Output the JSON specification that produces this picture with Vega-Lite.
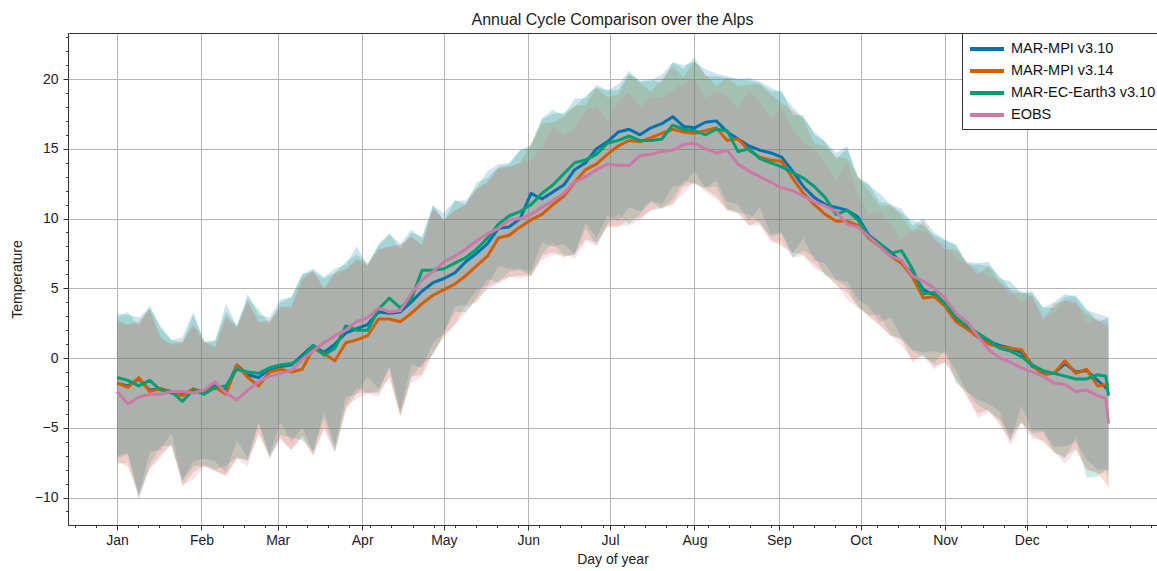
{
  "$schema": "https://vega.github.io/schema/vega-lite/v6.json",
  "width": 1089,
  "height": 492,
  "autosize": {"type": "none"},
  "padding": {"left": 68, "top": 33, "right": 0, "bottom": 46},
  "background": "white",
  "config": {
    "view": {"stroke": null},
    "font": "Liberation Sans",
    "axis": {
      "labelFont": "Liberation Sans",
      "titleFont": "Liberation Sans",
      "labelFontSize": 14,
      "titleFontSize": 14,
      "titleFontWeight": "normal",
      "labelColor": "#222",
      "titleColor": "#222",
      "domainColor": "#333",
      "tickColor": "#333",
      "gridColor": "#b5b5b5",
      "gridWidth": 1
    },
    "legend": {
      "orient": "none",
      "legendX": 894,
      "legendY": 0,
      "fillColor": "white",
      "strokeColor": "#333",
      "padding": 6,
      "symbolType": "M-1,0H3.25",
      "symbolSize": 256,
      "symbolStrokeWidth": 4,
      "labelFont": "Liberation Sans",
      "labelFontSize": 14.5,
      "labelColor": "#111",
      "labelOffset": 23,
      "labelLimit": 400,
      "rowPadding": 4,
      "titleFontSize": 0
    }
  },
  "title": {
    "text": "Annual Cycle Comparison over the Alps",
    "font": "Liberation Sans",
    "fontSize": 16,
    "fontWeight": "normal",
    "color": "#222",
    "anchor": "middle",
    "offset": 5
  },
  "datasets": {
    "mpi310": [
      {"d":1,"m":-1.8,"lo":-7.0,"hi":3.2},{"d":5,"m":-2.0,"lo":-6.8,"hi":3.1},{"d":9,"m":-1.5,"lo":-9.8,"hi":2.9},{"d":13,"m":-2.3,"lo":-6.7,"hi":3.6},
      {"d":17,"m":-2.2,"lo":-6.6,"hi":2.3},{"d":21,"m":-2.5,"lo":-5.4,"hi":1.3},{"d":25,"m":-2.6,"lo":-8.8,"hi":1.5},{"d":29,"m":-2.3,"lo":-7.4,"hi":3.3},
      {"d":33,"m":-2.4,"lo":-7.2,"hi":1.1},{"d":37,"m":-2.0,"lo":-7.4,"hi":1.2},{"d":41,"m":-2.3,"lo":-8.2,"hi":3.9},{"d":45,"m":-0.5,"lo":-5.9,"hi":2.3},
      {"d":49,"m":-1.2,"lo":-7.2,"hi":4.6},{"d":53,"m":-1.4,"lo":-4.6,"hi":3.1},{"d":57,"m":-0.8,"lo":-6.9,"hi":2.9},{"d":61,"m":-0.6,"lo":-4.6,"hi":4.2},
      {"d":65,"m":-0.5,"lo":-6.0,"hi":4.4},{"d":69,"m":0.2,"lo":-5.0,"hi":6.0},{"d":73,"m":0.9,"lo":-6.7,"hi":6.4},{"d":77,"m":0.4,"lo":-3.9,"hi":5.8},
      {"d":81,"m":1.0,"lo":-6.2,"hi":6.4},{"d":85,"m":1.8,"lo":-2.8,"hi":6.7},{"d":89,"m":2.1,"lo":-2.6,"hi":8.0},{"d":93,"m":2.4,"lo":-1.3,"hi":6.6},
      {"d":97,"m":3.3,"lo":-2.2,"hi":8.2},{"d":101,"m":3.2,"lo":-0.6,"hi":8.9},{"d":105,"m":3.3,"lo":-3.8,"hi":8.2},{"d":109,"m":4.0,"lo":-0.5,"hi":9.2},
      {"d":113,"m":4.8,"lo":-0.7,"hi":8.6},{"d":117,"m":5.4,"lo":1.1,"hi":10.9},{"d":121,"m":5.7,"lo":1.8,"hi":10.4},{"d":125,"m":6.1,"lo":3.7,"hi":11.3},
      {"d":129,"m":6.9,"lo":3.8,"hi":11.3},{"d":133,"m":7.5,"lo":4.9,"hi":12.2},{"d":137,"m":8.2,"lo":5.2,"hi":13.4},{"d":141,"m":9.3,"lo":6.6,"hi":13.9},
      {"d":145,"m":9.4,"lo":6.4,"hi":14.0},{"d":149,"m":10.0,"lo":6.4,"hi":14.9},{"d":153,"m":11.8,"lo":6.2,"hi":15.3},{"d":157,"m":11.4,"lo":8.3,"hi":17.2},
      {"d":161,"m":11.9,"lo":8.0,"hi":17.8},{"d":165,"m":12.4,"lo":8.2,"hi":17.4},{"d":169,"m":13.5,"lo":7.4,"hi":18.6},{"d":173,"m":14.0,"lo":9.7,"hi":18.6},
      {"d":177,"m":15.0,"lo":8.6,"hi":19.6},{"d":181,"m":15.5,"lo":10.2,"hi":19.2},{"d":185,"m":16.2,"lo":9.8,"hi":19.6},{"d":189,"m":16.4,"lo":10.8,"hi":20.6},
      {"d":193,"m":16.0,"lo":10.5,"hi":19.8},{"d":197,"m":16.5,"lo":11.3,"hi":19.9},{"d":201,"m":16.8,"lo":11.0,"hi":20.3},{"d":205,"m":17.3,"lo":12.3,"hi":21.2},
      {"d":209,"m":16.6,"lo":12.4,"hi":21.0},{"d":213,"m":16.5,"lo":13.4,"hi":21.2},{"d":217,"m":16.9,"lo":12.2,"hi":20.7},{"d":221,"m":17.0,"lo":12.7,"hi":20.4},
      {"d":225,"m":16.2,"lo":11.2,"hi":20.2},{"d":229,"m":15.7,"lo":11.0,"hi":20.0},{"d":233,"m":15.2,"lo":9.8,"hi":20.1},{"d":237,"m":14.9,"lo":10.8,"hi":19.8},
      {"d":241,"m":14.7,"lo":8.9,"hi":19.4},{"d":245,"m":14.4,"lo":9.0,"hi":19.0},{"d":249,"m":13.4,"lo":7.5,"hi":18.0},{"d":253,"m":12.3,"lo":8.6,"hi":17.2},
      {"d":257,"m":11.5,"lo":7.0,"hi":16.2},{"d":261,"m":11.0,"lo":6.8,"hi":15.5},{"d":265,"m":10.8,"lo":5.6,"hi":14.7},{"d":269,"m":10.6,"lo":5.5,"hi":15.2},
      {"d":273,"m":10.1,"lo":4.2,"hi":12.9},{"d":277,"m":8.8,"lo":3.7,"hi":12.4},{"d":281,"m":8.2,"lo":2.6,"hi":11.8},{"d":285,"m":7.6,"lo":2.9,"hi":11.0},
      {"d":289,"m":6.8,"lo":1.5,"hi":10.7},{"d":293,"m":6.1,"lo":0.6,"hi":9.5},{"d":297,"m":4.9,"lo":0.4,"hi":10.0},{"d":301,"m":4.5,"lo":0.5,"hi":9.0},
      {"d":305,"m":3.8,"lo":0.3,"hi":8.5},{"d":309,"m":2.7,"lo":-0.9,"hi":8.1},{"d":313,"m":2.2,"lo":-2.4,"hi":6.9},{"d":317,"m":1.6,"lo":-3.0,"hi":6.8},
      {"d":321,"m":1.2,"lo":-3.3,"hi":6.9},{"d":325,"m":0.9,"lo":-3.8,"hi":5.7},{"d":329,"m":0.7,"lo":-6.0,"hi":5.5},{"d":333,"m":0.4,"lo":-3.4,"hi":4.6},
      {"d":337,"m":-0.6,"lo":-5.2,"hi":4.8},{"d":341,"m":-1.0,"lo":-5.2,"hi":3.6},{"d":345,"m":-1.1,"lo":-6.4,"hi":4.0},{"d":349,"m":-0.4,"lo":-6.3,"hi":4.6},
      {"d":353,"m":-1.0,"lo":-6.0,"hi":4.4},{"d":357,"m":-0.9,"lo":-7.3,"hi":3.4},{"d":361,"m":-1.6,"lo":-8.0,"hi":3.2},{"d":365,"m":-2.3,"lo":-8.0,"hi":2.9}
    ],
    "mpi314": [
      {"d":1,"m":-1.8,"lo":-7.4,"hi":2.7},{"d":5,"m":-2.1,"lo":-7.8,"hi":2.4},{"d":9,"m":-1.4,"lo":-9.7,"hi":2.6},{"d":13,"m":-2.4,"lo":-7.9,"hi":3.5},
      {"d":17,"m":-2.2,"lo":-6.9,"hi":1.5},{"d":21,"m":-2.4,"lo":-6.2,"hi":1.0},{"d":25,"m":-2.7,"lo":-9.2,"hi":1.2},{"d":29,"m":-2.2,"lo":-8.2,"hi":2.4},
      {"d":33,"m":-2.5,"lo":-7.7,"hi":1.2},{"d":37,"m":-2.1,"lo":-8.1,"hi":0.8},{"d":41,"m":-2.6,"lo":-8.4,"hi":3.0},{"d":45,"m":-0.5,"lo":-7.2,"hi":2.2},
      {"d":49,"m":-1.4,"lo":-7.3,"hi":4.1},{"d":53,"m":-2.0,"lo":-5.5,"hi":2.6},{"d":57,"m":-1.0,"lo":-7.0,"hi":2.7},{"d":61,"m":-0.8,"lo":-5.7,"hi":3.7},
      {"d":65,"m":-1.0,"lo":-6.6,"hi":3.7},{"d":69,"m":-0.8,"lo":-5.5,"hi":5.7},{"d":73,"m":0.7,"lo":-7.0,"hi":6.3},{"d":77,"m":0.3,"lo":-4.9,"hi":5.0},
      {"d":81,"m":-0.2,"lo":-6.6,"hi":6.1},{"d":85,"m":1.1,"lo":-3.8,"hi":6.4},{"d":89,"m":1.3,"lo":-2.5,"hi":7.1},{"d":93,"m":1.6,"lo":-2.5,"hi":6.7},
      {"d":97,"m":2.8,"lo":-2.5,"hi":7.8},{"d":101,"m":2.8,"lo":-1.4,"hi":8.0},{"d":105,"m":2.6,"lo":-4.2,"hi":8.1},{"d":109,"m":3.2,"lo":-1.3,"hi":8.7},
      {"d":113,"m":3.9,"lo":-1.2,"hi":8.1},{"d":117,"m":4.5,"lo":0.4,"hi":10.7},{"d":121,"m":4.9,"lo":1.6,"hi":9.9},{"d":125,"m":5.3,"lo":2.4,"hi":10.6},
      {"d":129,"m":5.9,"lo":3.7,"hi":11.0},{"d":133,"m":6.6,"lo":4.0,"hi":12.1},{"d":137,"m":7.3,"lo":5.1,"hi":12.6},{"d":141,"m":8.6,"lo":5.5,"hi":13.6},
      {"d":145,"m":8.8,"lo":5.8,"hi":13.7},{"d":149,"m":9.4,"lo":5.9,"hi":14.0},{"d":153,"m":9.9,"lo":5.9,"hi":15.4},{"d":157,"m":10.3,"lo":7.3,"hi":16.8},
      {"d":161,"m":11.0,"lo":7.6,"hi":16.9},{"d":165,"m":11.6,"lo":7.2,"hi":17.3},{"d":169,"m":12.6,"lo":7.5,"hi":18.1},{"d":173,"m":13.5,"lo":8.5,"hi":18.1},
      {"d":177,"m":13.9,"lo":8.3,"hi":19.4},{"d":181,"m":14.6,"lo":9.4,"hi":18.7},{"d":185,"m":15.2,"lo":9.4,"hi":18.9},{"d":189,"m":15.6,"lo":10.0,"hi":20.3},
      {"d":193,"m":15.5,"lo":10.0,"hi":19.7},{"d":197,"m":15.8,"lo":10.6,"hi":19.1},{"d":201,"m":16.1,"lo":10.8,"hi":20.0},{"d":205,"m":16.4,"lo":11.0,"hi":20.9},
      {"d":209,"m":16.2,"lo":12.3,"hi":20.1},{"d":213,"m":16.1,"lo":12.5,"hi":21.3},{"d":217,"m":16.3,"lo":12.1,"hi":20.3},{"d":221,"m":16.5,"lo":11.6,"hi":19.5},
      {"d":225,"m":15.6,"lo":10.6,"hi":20.1},{"d":229,"m":15.7,"lo":10.5,"hi":19.5},{"d":233,"m":14.9,"lo":9.5,"hi":19.6},{"d":237,"m":14.4,"lo":9.8,"hi":19.6},
      {"d":241,"m":14.2,"lo":8.5,"hi":18.9},{"d":245,"m":14.1,"lo":8.0,"hi":18.3},{"d":249,"m":12.9,"lo":7.6,"hi":17.7},{"d":253,"m":11.8,"lo":7.4,"hi":17.1},
      {"d":257,"m":11.0,"lo":6.7,"hi":15.4},{"d":261,"m":10.3,"lo":6.0,"hi":15.2},{"d":265,"m":9.8,"lo":5.2,"hi":14.4},{"d":269,"m":9.8,"lo":4.7,"hi":14.3},
      {"d":273,"m":9.5,"lo":3.7,"hi":13.0},{"d":277,"m":8.6,"lo":3.0,"hi":12.0},{"d":281,"m":8.0,"lo":2.4,"hi":10.9},{"d":285,"m":7.3,"lo":1.6,"hi":10.9},
      {"d":289,"m":6.8,"lo":1.4,"hi":10.2},{"d":293,"m":5.8,"lo":-0.3,"hi":9.0},{"d":297,"m":4.3,"lo":0.3,"hi":9.8},{"d":301,"m":4.4,"lo":-0.6,"hi":8.5},
      {"d":305,"m":3.7,"lo":-0.3,"hi":7.8},{"d":309,"m":2.6,"lo":-1.4,"hi":7.8},{"d":313,"m":2.1,"lo":-2.7,"hi":6.8},{"d":317,"m":1.5,"lo":-4.0,"hi":6.0},
      {"d":321,"m":1.0,"lo":-3.7,"hi":6.6},{"d":325,"m":0.8,"lo":-4.8,"hi":5.4},{"d":329,"m":0.7,"lo":-5.9,"hi":4.6},{"d":333,"m":0.6,"lo":-4.6,"hi":4.7},
      {"d":337,"m":-0.5,"lo":-5.5,"hi":4.4},{"d":341,"m":-1.2,"lo":-6.0,"hi":2.7},{"d":345,"m":-1.1,"lo":-6.8,"hi":3.9},{"d":349,"m":-0.2,"lo":-7.1,"hi":4.1},
      {"d":353,"m":-1.1,"lo":-6.5,"hi":3.9},{"d":357,"m":-0.8,"lo":-8.0,"hi":3.2},{"d":361,"m":-2.0,"lo":-8.2,"hi":2.7},{"d":365,"m":-1.9,"lo":-9.3,"hi":2.2}
    ],
    "ece310": [
      {"d":1,"m":-1.4,"lo":-7.2,"hi":2.9},{"d":5,"m":-1.6,"lo":-6.9,"hi":3.3},{"d":9,"m":-2.0,"lo":-10.1,"hi":2.3},{"d":13,"m":-1.6,"lo":-7.6,"hi":3.8},
      {"d":17,"m":-2.3,"lo":-6.3,"hi":2.1},{"d":21,"m":-2.4,"lo":-6.3,"hi":1.3},{"d":25,"m":-3.1,"lo":-8.8,"hi":1.1},{"d":29,"m":-2.3,"lo":-7.8,"hi":3.1},
      {"d":33,"m":-2.6,"lo":-7.7,"hi":1.2},{"d":37,"m":-2.1,"lo":-8.0,"hi":1.3},{"d":41,"m":-2.0,"lo":-7.7,"hi":3.3},{"d":45,"m":-0.8,"lo":-7.1,"hi":2.3},
      {"d":49,"m":-1.0,"lo":-7.4,"hi":4.3},{"d":53,"m":-1.1,"lo":-4.7,"hi":3.5},{"d":57,"m":-0.7,"lo":-7.2,"hi":2.4},{"d":61,"m":-0.5,"lo":-5.5,"hi":4.0},
      {"d":65,"m":-0.4,"lo":-5.7,"hi":4.3},{"d":69,"m":0.0,"lo":-5.9,"hi":6.0},{"d":73,"m":0.9,"lo":-6.7,"hi":6.2},{"d":77,"m":0.2,"lo":-4.3,"hi":5.7},
      {"d":81,"m":0.7,"lo":-6.7,"hi":6.1},{"d":85,"m":2.3,"lo":-3.4,"hi":6.9},{"d":89,"m":2.0,"lo":-2.1,"hi":7.4},{"d":93,"m":2.0,"lo":-2.5,"hi":6.8},
      {"d":97,"m":3.5,"lo":-2.4,"hi":8.0},{"d":101,"m":4.3,"lo":-0.7,"hi":8.9},{"d":105,"m":3.6,"lo":-4.1,"hi":7.8},{"d":109,"m":4.2,"lo":-1.4,"hi":9.0},
      {"d":113,"m":6.3,"lo":-0.4,"hi":8.7},{"d":117,"m":6.3,"lo":0.2,"hi":11.0},{"d":121,"m":6.4,"lo":1.8,"hi":9.8},{"d":125,"m":6.8,"lo":3.3,"hi":11.3},
      {"d":129,"m":7.2,"lo":3.3,"hi":11.0},{"d":133,"m":7.8,"lo":4.3,"hi":12.6},{"d":137,"m":8.6,"lo":5.7,"hi":12.9},{"d":141,"m":9.6,"lo":5.4,"hi":13.7},
      {"d":145,"m":10.2,"lo":6.2,"hi":13.9},{"d":149,"m":10.5,"lo":6.3,"hi":14.9},{"d":153,"m":11.0,"lo":5.9,"hi":15.1},{"d":157,"m":11.8,"lo":7.4,"hi":17.1},
      {"d":161,"m":12.4,"lo":8.3,"hi":17.5},{"d":165,"m":13.2,"lo":7.3,"hi":17.6},{"d":169,"m":14.0,"lo":7.4,"hi":18.0},{"d":173,"m":14.2,"lo":9.3,"hi":18.8},
      {"d":177,"m":14.6,"lo":8.1,"hi":19.4},{"d":181,"m":15.4,"lo":9.6,"hi":19.2},{"d":185,"m":15.6,"lo":10.3,"hi":19.2},{"d":189,"m":15.9,"lo":9.6,"hi":20.4},
      {"d":193,"m":15.6,"lo":10.3,"hi":19.9},{"d":197,"m":15.6,"lo":11.2,"hi":20.0},{"d":201,"m":15.7,"lo":10.7,"hi":19.7},{"d":205,"m":16.7,"lo":11.4,"hi":21.2},
      {"d":209,"m":16.4,"lo":12.7,"hi":20.7},{"d":213,"m":16.3,"lo":12.5,"hi":21.6},{"d":217,"m":16.0,"lo":12.2,"hi":20.2},{"d":221,"m":16.4,"lo":12.3,"hi":20.2},
      {"d":225,"m":16.3,"lo":10.7,"hi":20.1},{"d":229,"m":14.8,"lo":10.4,"hi":20.0},{"d":233,"m":15.0,"lo":10.3,"hi":19.9},{"d":237,"m":14.3,"lo":9.6,"hi":19.7},
      {"d":241,"m":14.0,"lo":8.7,"hi":19.1},{"d":245,"m":13.7,"lo":8.9,"hi":19.2},{"d":249,"m":13.3,"lo":7.2,"hi":17.4},{"d":253,"m":12.9,"lo":7.7,"hi":17.4},
      {"d":257,"m":12.3,"lo":7.3,"hi":16.0},{"d":261,"m":11.5,"lo":5.9,"hi":15.5},{"d":265,"m":10.3,"lo":5.6,"hi":14.3},{"d":269,"m":10.6,"lo":5.1,"hi":15.0},
      {"d":273,"m":9.9,"lo":3.7,"hi":13.0},{"d":277,"m":8.7,"lo":3.1,"hi":12.5},{"d":281,"m":8.2,"lo":3.1,"hi":11.2},{"d":285,"m":7.5,"lo":1.7,"hi":11.0},
      {"d":289,"m":7.7,"lo":1.3,"hi":10.4},{"d":293,"m":6.4,"lo":0.5,"hi":9.9},{"d":297,"m":4.6,"lo":0.1,"hi":9.5},{"d":301,"m":4.7,"lo":-0.4,"hi":8.8},
      {"d":305,"m":3.9,"lo":0.6,"hi":8.4},{"d":309,"m":2.9,"lo":-1.8,"hi":8.1},{"d":313,"m":2.3,"lo":-2.4,"hi":6.7},{"d":317,"m":1.8,"lo":-3.4,"hi":6.7},
      {"d":321,"m":1.3,"lo":-3.8,"hi":6.6},{"d":325,"m":0.7,"lo":-4.4,"hi":5.9},{"d":329,"m":0.5,"lo":-5.5,"hi":4.9},{"d":333,"m":0.1,"lo":-4.6,"hi":4.8},
      {"d":337,"m":-0.5,"lo":-5.4,"hi":4.6},{"d":341,"m":-0.9,"lo":-5.3,"hi":3.6},{"d":345,"m":-1.1,"lo":-6.7,"hi":3.6},{"d":349,"m":-1.3,"lo":-7.2,"hi":4.4},
      {"d":353,"m":-1.5,"lo":-5.7,"hi":4.5},{"d":357,"m":-1.5,"lo":-8.6,"hi":3.5},{"d":361,"m":-1.2,"lo":-8.5,"hi":2.6},{"d":364,"m":-1.3,"lo":-8.0,"hi":2.8},
      {"d":365,"m":-2.7,"lo":-8.4,"hi":2.9}
    ],
    "eobs": [
      {"d":1,"m":-2.4,"lo":-7.6,"hi":2.6},{"d":5,"m":-3.3,"lo":-7.5,"hi":2.3},{"d":9,"m":-2.8,"lo":-10.1,"hi":2.5},{"d":13,"m":-2.6,"lo":-8.0,"hi":3.4},
      {"d":17,"m":-2.6,"lo":-7.2,"hi":1.4},{"d":21,"m":-2.4,"lo":-6.1,"hi":0.9},{"d":25,"m":-2.4,"lo":-9.1,"hi":1.1},{"d":29,"m":-2.5,"lo":-8.7,"hi":2.3},
      {"d":33,"m":-2.3,"lo":-7.8,"hi":1.1},{"d":37,"m":-1.7,"lo":-8.1,"hi":0.7},{"d":41,"m":-2.5,"lo":-8.5,"hi":2.9},{"d":45,"m":-3.0,"lo":-7.2,"hi":2.1},
      {"d":49,"m":-2.3,"lo":-7.8,"hi":4.0},{"d":53,"m":-1.7,"lo":-5.3,"hi":2.5},{"d":57,"m":-1.3,"lo":-7.2,"hi":2.6},{"d":61,"m":-1.1,"lo":-5.9,"hi":3.6},
      {"d":65,"m":-0.9,"lo":-6.6,"hi":3.6},{"d":69,"m":-0.1,"lo":-5.7,"hi":5.6},{"d":73,"m":0.5,"lo":-7.0,"hi":6.2},{"d":77,"m":1.1,"lo":-5.2,"hi":4.9},
      {"d":81,"m":1.6,"lo":-6.8,"hi":6.0},{"d":85,"m":2.0,"lo":-3.5,"hi":6.3},{"d":89,"m":2.6,"lo":-2.9,"hi":7.0},{"d":93,"m":2.9,"lo":-2.6,"hi":6.6},
      {"d":97,"m":3.6,"lo":-2.8,"hi":7.8},{"d":101,"m":3.3,"lo":-1.3,"hi":8.0},{"d":105,"m":3.4,"lo":-4.1,"hi":8.1},{"d":109,"m":4.6,"lo":-1.8,"hi":8.7},
      {"d":113,"m":5.6,"lo":-1.3,"hi":8.1},{"d":117,"m":6.2,"lo":0.4,"hi":10.7},{"d":121,"m":6.9,"lo":1.5,"hi":9.9},{"d":125,"m":7.3,"lo":2.4,"hi":10.6},
      {"d":129,"m":7.8,"lo":3.2,"hi":11.0},{"d":133,"m":8.4,"lo":4.2,"hi":12.1},{"d":137,"m":8.9,"lo":4.9,"hi":12.6},{"d":141,"m":9.3,"lo":5.3,"hi":13.6},
      {"d":145,"m":9.9,"lo":5.8,"hi":13.7},{"d":149,"m":10.0,"lo":5.7,"hi":14.0},{"d":153,"m":10.3,"lo":5.9,"hi":14.1},{"d":157,"m":10.8,"lo":7.0,"hi":15.1},
      {"d":161,"m":11.3,"lo":7.4,"hi":16.5},{"d":165,"m":11.8,"lo":7.5,"hi":16.0},{"d":169,"m":12.6,"lo":7.1,"hi":16.4},{"d":173,"m":13.0,"lo":8.4,"hi":17.7},
      {"d":177,"m":13.5,"lo":8.0,"hi":18.1},{"d":181,"m":13.9,"lo":9.5,"hi":17.0},{"d":185,"m":13.8,"lo":9.5,"hi":18.5},{"d":189,"m":13.8,"lo":9.5,"hi":19.0},
      {"d":193,"m":14.5,"lo":9.9,"hi":18.0},{"d":197,"m":14.6,"lo":10.6,"hi":18.7},{"d":201,"m":14.8,"lo":10.7,"hi":18.7},{"d":205,"m":14.9,"lo":11.0,"hi":19.2},
      {"d":209,"m":15.3,"lo":11.8,"hi":19.7},{"d":213,"m":15.4,"lo":12.7,"hi":20.0},{"d":217,"m":15.0,"lo":11.9,"hi":18.6},{"d":221,"m":14.7,"lo":11.4,"hi":19.1},
      {"d":225,"m":14.9,"lo":10.6,"hi":18.8},{"d":229,"m":13.9,"lo":10.3,"hi":17.8},{"d":233,"m":13.4,"lo":9.5,"hi":19.2},{"d":237,"m":13.0,"lo":9.5,"hi":18.3},
      {"d":241,"m":12.6,"lo":8.3,"hi":17.2},{"d":245,"m":12.2,"lo":8.3,"hi":17.9},{"d":249,"m":12.0,"lo":7.2,"hi":16.4},{"d":253,"m":11.6,"lo":7.3,"hi":15.4},
      {"d":257,"m":11.2,"lo":6.4,"hi":15.0},{"d":261,"m":10.9,"lo":6.1,"hi":13.9},{"d":265,"m":10.5,"lo":5.3,"hi":12.7},{"d":269,"m":9.6,"lo":4.2,"hi":13.9},
      {"d":273,"m":9.4,"lo":3.6,"hi":11.7},{"d":277,"m":8.7,"lo":3.0,"hi":10.3},{"d":281,"m":8.0,"lo":2.3,"hi":10.5},{"d":285,"m":7.3,"lo":1.6,"hi":9.6},
      {"d":289,"m":7.0,"lo":0.9,"hi":8.5},{"d":293,"m":5.9,"lo":-0.1,"hi":9.3},{"d":297,"m":5.5,"lo":0.1,"hi":9.1},{"d":301,"m":5.0,"lo":-0.8,"hi":8.6},
      {"d":305,"m":4.3,"lo":-0.3,"hi":8.1},{"d":309,"m":3.2,"lo":-1.6,"hi":7.1},{"d":313,"m":2.6,"lo":-2.7,"hi":6.9},{"d":317,"m":1.6,"lo":-4.3,"hi":6.3},
      {"d":321,"m":0.6,"lo":-3.9,"hi":5.9},{"d":325,"m":0.0,"lo":-4.5,"hi":5.5},{"d":329,"m":-0.3,"lo":-6.3,"hi":4.9},{"d":333,"m":-0.7,"lo":-4.7,"hi":4.0},
      {"d":337,"m":-1.0,"lo":-5.8,"hi":4.5},{"d":341,"m":-1.3,"lo":-5.9,"hi":3.0},{"d":345,"m":-1.8,"lo":-6.7,"hi":3.2},{"d":349,"m":-1.9,"lo":-7.6,"hi":4.2},
      {"d":353,"m":-2.4,"lo":-6.6,"hi":4.2},{"d":357,"m":-2.3,"lo":-8.0,"hi":2.5},{"d":361,"m":-2.7,"lo":-8.3,"hi":2.8},{"d":364,"m":-2.9,"lo":-8.2,"hi":2.7},
      {"d":365,"m":-4.7,"lo":-9.3,"hi":2.5}
    ]
  },
  "layer": [
    {
      "data": {"name": "mpi310"},
      "mark": {"type": "area", "color": "#0072B2", "opacity": 0.2},
      "encoding": {
        "x": {
          "field": "d", "type": "quantitative",
          "scale": {"domain": [-17.0, 382.8], "nice": false, "zero": false},
          "axis": {
            "orient": "bottom",
            "values": [1, 32, 60, 91, 121, 152, 182, 213, 244, 274, 305, 335],
            "labelExpr": "['Jan','Feb','Mar','Apr','May','Jun','Jul','Aug','Sep','Oct','Nov','Dec'][indexof([1,32,60,91,121,152,182,213,244,274,305,335], datum.value)]",
            "title": "Day of year",
            "grid": true,
            "tickSize": 5,
            "labelPadding": 3,
            "titlePadding": 5,
            "labelFlush": false,
            "labelOverlap": false
          }
        },
        "y": {
          "field": "lo", "type": "quantitative",
          "scale": {"domain": [-11.97, 23.3], "nice": false, "zero": false},
          "axis": {
            "orient": "left",
            "values": [-10, -5, 0, 5, 10, 15, 20],
            "title": "Temperature",
            "grid": true,
            "tickSize": 5,
            "labelPadding": 5,
            "titlePadding": 10,
            "labelFlush": false,
            "labelOverlap": false
          }
        },
        "y2": {"field": "hi"}
      }
    },
    {
      "data": {"name": "mpi314"},
      "mark": {"type": "area", "color": "#D55E00", "opacity": 0.2},
      "encoding": {
        "x": {
          "field": "d", "type": "quantitative",
          "scale": {"domain": [-17.0, 382.8], "nice": false, "zero": false},
          "axis": {
            "orient": "bottom",
            "values": [-14.5, -6.75, 8.75, 16.5, 24.25, 39.75, 47.5, 55.25, 63, 70.75, 78.5, 86.25, 94, 101.75, 109.5, 117.25, 125, 132.75, 140.5, 148.25, 156, 163.75, 171.5, 179.25, 187, 194.75, 202.5, 210.25, 218, 225.75, 233.5, 241.25, 249, 256.75, 264.5, 272.25, 280, 287.75, 295.5, 303.25, 311, 318.75, 326.5, 334.25, 342, 349.75, 357.5, 365.25, 373, 380.75],
            "labels": false,
            "grid": false,
            "domain": false,
            "tickSize": 2.5,
            "title": null
          }
        },
        "y": {
          "field": "lo", "type": "quantitative",
          "scale": {"domain": [-11.97, 23.3], "nice": false, "zero": false},
          "axis": {
            "orient": "left",
            "values": [-11, -9, -8, -7, -6, -4, -3, -2, -1, 1, 2, 3, 4, 6, 7, 8, 9, 11, 12, 13, 14, 16, 17, 18, 19, 21, 22, 23],
            "labels": false,
            "grid": false,
            "domain": false,
            "tickSize": 2.5,
            "title": null
          }
        },
        "y2": {"field": "hi"}
      }
    },
    {
      "data": {"name": "ece310"},
      "mark": {"type": "area", "color": "#009E73", "opacity": 0.2},
      "encoding": {
        "x": {
          "field": "d", "type": "quantitative",
          "scale": {"domain": [-17.0, 382.8], "nice": false, "zero": false},
          "axis": {
            "orient": "top",
            "labels": false,
            "ticks": false,
            "grid": false,
            "domain": true,
            "title": null
          }
        },
        "y": {
          "field": "lo", "type": "quantitative",
          "scale": {"domain": [-11.97, 23.3], "nice": false, "zero": false},
          "axis": null
        },
        "y2": {"field": "hi"}
      }
    },
    {
      "data": {"name": "eobs"},
      "mark": {"type": "area", "color": "#CC79A7", "opacity": 0.2},
      "encoding": {
        "x": {"field": "d", "type": "quantitative", "scale": {"domain": [-17.0, 382.8], "nice": false, "zero": false}, "axis": null},
        "y": {"field": "lo", "type": "quantitative", "scale": {"domain": [-11.97, 23.3], "nice": false, "zero": false}, "axis": null},
        "y2": {"field": "hi"}
      }
    },
    {
      "data": {"name": "mpi310"},
      "mark": {"type": "line", "strokeWidth": 3, "strokeJoin": "round"},
      "encoding": {
        "x": {"field": "d", "type": "quantitative", "scale": {"domain": [-17.0, 382.8], "nice": false, "zero": false}, "axis": null},
        "y": {"field": "m", "type": "quantitative", "scale": {"domain": [-11.97, 23.3], "nice": false, "zero": false}, "axis": null},
        "color": {
          "datum": "MAR-MPI v3.10",
          "type": "nominal",
          "scale": {
            "domain": ["MAR-MPI v3.10", "MAR-MPI v3.14", "MAR-EC-Earth3 v3.10", "EOBS"],
            "range": ["#0072B2", "#D55E00", "#009E73", "#CC79A7"]
          },
          "legend": {"title": null}
        }
      }
    },
    {
      "data": {"name": "mpi314"},
      "mark": {"type": "line", "strokeWidth": 3, "strokeJoin": "round"},
      "encoding": {
        "x": {"field": "d", "type": "quantitative", "scale": {"domain": [-17.0, 382.8], "nice": false, "zero": false}, "axis": null},
        "y": {"field": "m", "type": "quantitative", "scale": {"domain": [-11.97, 23.3], "nice": false, "zero": false}, "axis": null},
        "color": {"datum": "MAR-MPI v3.14", "type": "nominal"}
      }
    },
    {
      "data": {"name": "ece310"},
      "mark": {"type": "line", "strokeWidth": 3, "strokeJoin": "round"},
      "encoding": {
        "x": {"field": "d", "type": "quantitative", "scale": {"domain": [-17.0, 382.8], "nice": false, "zero": false}, "axis": null},
        "y": {"field": "m", "type": "quantitative", "scale": {"domain": [-11.97, 23.3], "nice": false, "zero": false}, "axis": null},
        "color": {"datum": "MAR-EC-Earth3 v3.10", "type": "nominal"}
      }
    },
    {
      "data": {"name": "eobs"},
      "mark": {"type": "line", "strokeWidth": 3, "strokeJoin": "round"},
      "encoding": {
        "x": {"field": "d", "type": "quantitative", "scale": {"domain": [-17.0, 382.8], "nice": false, "zero": false}, "axis": null},
        "y": {"field": "m", "type": "quantitative", "scale": {"domain": [-11.97, 23.3], "nice": false, "zero": false}, "axis": null},
        "color": {"datum": "EOBS", "type": "nominal"}
      }
    }
  ],
  "resolve": {"axis": {"x": "independent", "y": "independent"}}
}
